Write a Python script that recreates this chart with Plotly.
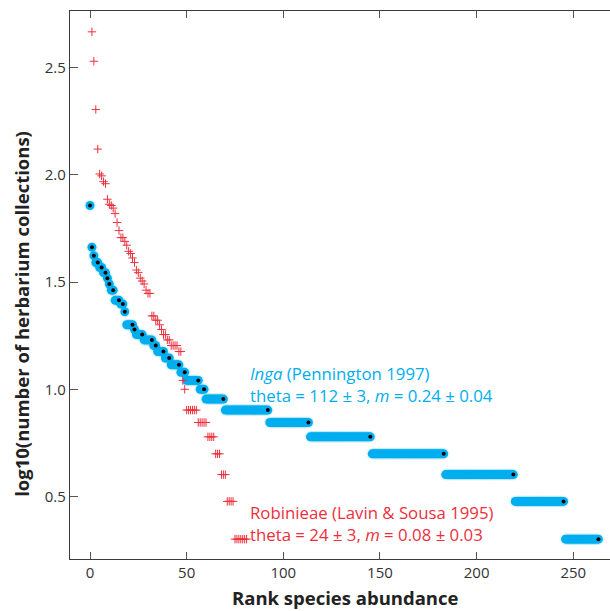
import numpy as np
import plotly.graph_objects as go

# Inga (Pennington 1997): herbarium collections per species, and how many
# species share each collection count (ordered from most to least collected)
inga_collections = [72, 46, 42, 39, 37, 35, 33, 31, 29, 26, 25, 23, 20, 19, 18, 17,
                    16, 15, 14, 13, 12, 11, 10, 9, 8, 7, 6, 5, 4, 3, 2]
inga_species = [1, 1, 1, 2, 2, 2, 1, 1, 2, 3, 2, 1, 4, 1, 4, 5,
                2, 4, 3, 5, 3, 7, 3, 10, 23, 21, 32, 38, 36, 26, 18]

# Robinieae (Lavin & Sousa 1995)
robinieae_collections = [465, 339, 202, 132, 101, 99, 93, 91, 77, 73, 72, 70, 66, 60, 55,
                         51, 49, 47, 44, 43, 41, 39, 36, 35, 33, 32, 31, 29, 28, 22, 21,
                         20, 19, 18, 17, 16, 15, 11, 10, 8, 7, 6, 5, 4, 3, 2]
robinieae_species = [1, 1, 1, 1, 1, 1, 1, 1, 1, 1, 1, 1, 1, 1, 1,
                     2, 1, 1, 1, 1, 1, 1, 1, 1, 1, 1, 1, 1, 2, 2, 2,
                     1, 1, 2, 2, 4, 2, 1, 1, 6, 5, 4, 3, 3, 4, 7]

x_ticks = [0, 50, 100, 150, 200, 250]
y_ticks = [0.5, 1.0, 1.5, 2.0, 2.5]
y_tick_labels = ["0.5", "1.0", "1.5", "2.0", "2.5"]

BLUE = "#00AEEF"
RED = "#ED2F3B"
FONT = "Open Sans, Noto Sans, sans-serif"

# expand to one value per species, ranked by abundance
inga_log = np.log10(np.repeat(inga_collections, inga_species))
inga_rank = np.arange(len(inga_log))
inga_end_rank = np.cumsum(inga_species) - 1
inga_end_log = np.log10(inga_collections)

rob_log = np.log10(np.repeat(robinieae_collections, robinieae_species))
rob_rank = np.arange(1, len(rob_log) + 1)

fig = go.Figure()

# soft halo behind the Inga markers
fig.add_trace(go.Scatter(
    x=inga_rank, y=inga_log, mode="markers", hoverinfo="skip",
    marker=dict(size=12, color="rgba(0,174,239,0.10)", line=dict(width=0)),
))
fig.add_trace(go.Scatter(
    x=inga_rank, y=inga_log, mode="markers", name="Inga",
    marker=dict(size=9, color=BLUE, line=dict(width=0)),
))
# black dot on the last species of each collection count
fig.add_trace(go.Scatter(
    x=inga_end_rank, y=inga_end_log, mode="markers",
    marker=dict(size=4, color="black", line=dict(width=0)),
))
fig.add_trace(go.Scatter(
    x=rob_rank, y=rob_log, mode="markers", name="Robinieae",
    marker=dict(symbol="cross-thin", size=6, color=RED,
                line=dict(width=1, color=RED)),
))

axis_common = dict(
    showgrid=False, zeroline=False, showline=True,
    linecolor="#3a3a3a", linewidth=1.3,
    ticks="inside", tickcolor="#555555", tickwidth=1.3,
    tickfont=dict(family=FONT, size=15, color="#333333"),
)

fig.update_layout(
    width=610, height=611,
    margin=dict(l=70, r=0, t=11, b=52),
    paper_bgcolor="white", plot_bgcolor="white",
    showlegend=False,
    font=dict(family=FONT),
    xaxis=dict(range=[-10.35, 269.0], tickvals=x_ticks, ticklen=7,
               mirror="ticks", **axis_common),
    yaxis=dict(range=[0.2084, 2.7646], tickvals=y_ticks, ticktext=y_tick_labels,
               ticklen=8, **axis_common),
)

def px_x(px):
    return (px - 70) / 540

def px_y(py):
    return (559.3 - py) / 548.3

# two-line legends written next to each series
notes = [
    ("<i>Inga</i> (Pennington 1997)<br>theta = 112 ± 3, <i>m</i> = 0.24 ± 0.04",
     385.0, BLUE),
    ("Robinieae (Lavin &amp; Sousa 1995)<br>theta = 24 ± 3, <i>m</i> = 0.08 ± 0.03",
     524.0, RED),
]
for text, py, color in notes:
    fig.add_annotation(
        text=text, xref="paper", yref="paper", x=px_x(249), y=px_y(py),
        xanchor="left", yanchor="middle", align="left", showarrow=False,
        borderpad=0,
        font=dict(family=FONT, size=16.8, color=color),
    )

fig.add_annotation(
    text="Rank species abundance", xref="paper", yref="paper",
    x=px_x(345), y=px_y(598), xanchor="center", yanchor="middle", showarrow=False,
    borderpad=0,
    font=dict(family=FONT, size=18.5, color="#222222", weight="bold"),
)
fig.add_annotation(
    text="log10(number of herbarium collections)", xref="paper", yref="paper",
    x=px_x(22), y=px_y(314), xanchor="center", yanchor="middle", showarrow=False,
    textangle=-90,
    font=dict(family=FONT, size=18.5, color="#222222", weight="bold"),
)

fig.write_html("out.html")
